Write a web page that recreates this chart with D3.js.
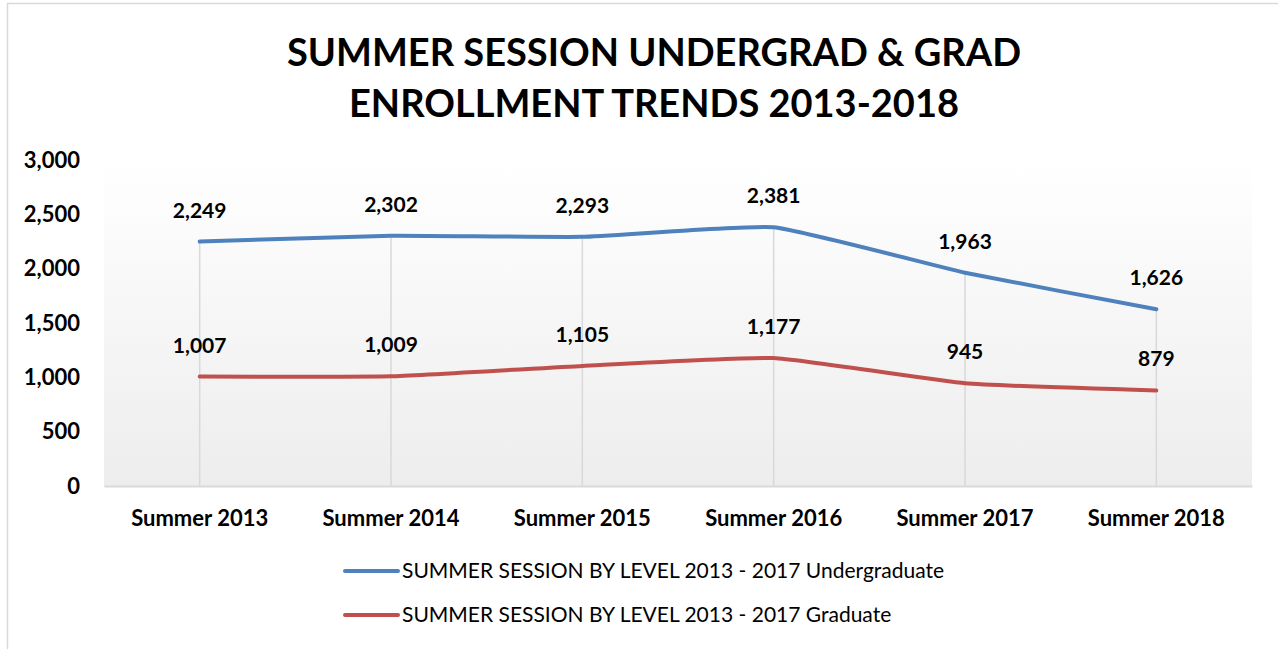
<!DOCTYPE html>
<html>
<head>
<meta charset="utf-8">
<script src="https://cdn.jsdelivr.net/npm/d3@7"></script>
<style>
  body { margin: 0; background: #fff; }
  svg { display: block; font-family: Lato, "Open Sans", sans-serif; }
</style>
</head>
<body>
<div id="chart"></div>
<script>
// chart values
const categories = ["Summer 2013", "Summer 2014", "Summer 2015", "Summer 2016", "Summer 2017", "Summer 2018"];
const undergrad = [2249, 2302, 2293, 2381, 1963, 1626];
const graduate = [1007, 1009, 1105, 1177, 945, 879];
const yTicks = [0, 500, 1000, 1500, 2000, 2500, 3000];
const seriesNames = [
  "SUMMER SESSION BY LEVEL 2013 - 2017 Undergraduate",
  "SUMMER SESSION BY LEVEL 2013 - 2017 Graduate"
];
const titleLines = ["SUMMER SESSION UNDERGRAD & GRAD", "ENROLLMENT TRENDS 2013-2018"];

const w = 1278;
const h = 649;
const plot = { left: 104, right: 1252, top: 160, bottom: 486 };
const colors = ["#4f81bd", "#c0504d"];

const svg = d3.select("#chart")
  .append("svg")
  .attr("width", w)
  .attr("height", h);

// chart border
svg.append("rect")
  .attr("x", 7.5).attr("y", 3.5)
  .attr("width", w + 20).attr("height", h + 20)
  .attr("fill", "#fff")
  .attr("stroke", "#d9d9d9")
  .attr("stroke-width", 1.5);

const defs = svg.append("defs");
const grad = defs.append("linearGradient")
  .attr("id", "plotbg")
  .attr("x1", 0).attr("y1", 0).attr("x2", 0).attr("y2", 1);
grad.append("stop").attr("offset", "0%").attr("stop-color", "#ffffff");
grad.append("stop").attr("offset", "100%").attr("stop-color", "#ededed");

const xScale = d3.scaleBand()
  .domain(categories)
  .range([plot.left, plot.right]);

const yScale = d3.scaleLinear()
  .domain([0, 3000])
  .range([plot.bottom, plot.top]);

const cx = (c) => xScale(c) + xScale.bandwidth() / 2;

svg.append("rect")
  .attr("x", plot.left)
  .attr("y", plot.top)
  .attr("width", plot.right - plot.left)
  .attr("height", plot.bottom - plot.top)
  .attr("fill", "url(#plotbg)");

// title
svg.append("g")
  .selectAll("text")
  .data(titleLines)
  .enter()
  .append("text")
  .attr("x", 654)
  .attr("y", (d, i) => 66 + i * 51)
  .attr("text-anchor", "middle")
  .attr("font-size", 38)
  .attr("font-weight", "bold")
  .attr("fill", "#000")
  .text(d => d);

// drop lines
svg.append("g")
  .selectAll("line")
  .data(categories)
  .enter()
  .append("line")
  .attr("x1", d => cx(d))
  .attr("x2", d => cx(d))
  .attr("y1", (d, i) => yScale(Math.max(undergrad[i], graduate[i])))
  .attr("y2", plot.bottom)
  .attr("stroke", "#d9d9d9")
  .attr("stroke-width", 1.5);

// axes
const yAxis = d3.axisLeft(yScale)
  .tickValues(yTicks)
  .tickSize(0)
  .tickPadding(0)
  .tickFormat(d3.format(","));
const gy = svg.append("g")
  .attr("transform", "translate(80,0)")
  .call(yAxis);
gy.select(".domain").remove();
gy.selectAll("text")
  .attr("font-family", "Lato, sans-serif")
  .attr("font-size", 22)
  .attr("font-weight", "bold")
  .attr("fill", "#000");

const xAxis = d3.axisBottom(xScale)
  .tickSize(0)
  .tickPadding(24);
const gx = svg.append("g")
  .attr("transform", `translate(0, ${plot.bottom})`)
  .call(xAxis);
gx.select(".domain")
  .attr("stroke", "#d9d9d9")
  .attr("stroke-width", 2);
gx.selectAll("text")
  .attr("font-family", "Lato, sans-serif")
  .attr("font-size", 22)
  .attr("font-weight", "bold")
  .attr("fill", "#000");

// lines
const series = [undergrad, graduate];
const line = d3.line()
  .x((d, i) => cx(categories[i]))
  .y(d => yScale(d))
  .curve(d3.curveCardinal.tension(0.6));

series.forEach((s, k) => {
  svg.append("path")
    .datum(s)
    .attr("fill", "none")
    .attr("stroke", colors[k])
    .attr("stroke-width", 4)
    .attr("stroke-linecap", "round")
    .attr("stroke-linejoin", "round")
    .attr("d", line);

  svg.append("g")
    .selectAll("text")
    .data(s)
    .enter()
    .append("text")
    .attr("x", (d, i) => cx(categories[i]))
    .attr("y", d => yScale(d) - 24)
    .attr("text-anchor", "middle")
    .attr("font-size", 21)
    .attr("font-weight", "bold")
    .attr("fill", "#000")
    .text(d => d3.format(",")(d));
});

// legend
const legend = svg.append("g")
  .selectAll("g")
  .data(seriesNames)
  .enter()
  .append("g")
  .attr("transform", (d, i) => `translate(345, ${571 + i * 44})`);
legend.append("line")
  .attr("x1", 0).attr("x2", 53)
  .attr("y1", 0).attr("y2", 0)
  .attr("stroke", (d, i) => colors[i])
  .attr("stroke-width", 4)
  .attr("stroke-linecap", "round");
legend.append("text")
  .attr("x", 57)
  .attr("y", 7)
  .attr("font-size", 21)
  .attr("fill", "#000")
  .text(d => d);
</script>
</body>
</html>
